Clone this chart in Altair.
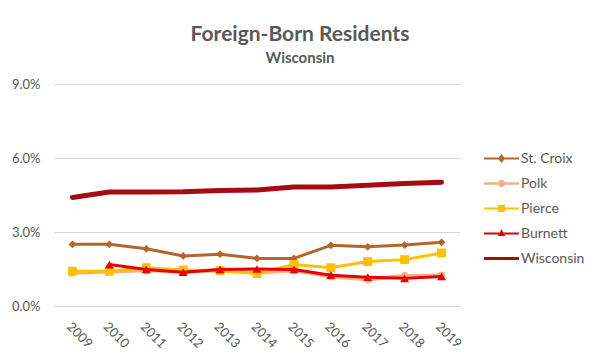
import altair as alt
import pandas as pd

years = ["2009", "2010", "2011", "2012", "2013", "2014", "2015", "2016", "2017", "2018", "2019"]
series_names = ["St. Croix", "Polk", "Pierce", "Burnett", "Wisconsin"]
st_croix = [2.50, 2.50, 2.32, 2.03, 2.10, 1.93, 1.93, 2.46, 2.40, 2.47, 2.58]
polk = [1.35, 1.40, 1.45, 1.40, 1.45, 1.35, 1.45, 1.20, 1.08, 1.22, 1.24]
pierce = [1.41, 1.41, 1.55, 1.46, 1.43, 1.32, 1.68, 1.55, 1.80, 1.88, 2.15]
burnett = [None, 1.68, 1.48, 1.37, 1.48, 1.50, 1.48, 1.25, 1.17, 1.12, 1.20]
wisconsin = [4.40, 4.62, 4.62, 4.63, 4.68, 4.70, 4.82, 4.82, 4.90, 4.97, 5.02]

colors = ["#B5652B", "#F4B183", "#FFC000", "#E60000", "#A50B10"]
marker_shapes = ["diamond", "circle", "square", "triangle-up", "circle"]
marker_sizes = [60, 60, 80, 80, 0]
line_widths = [3, 4, 3, 3, 5]

legend_paths = [
    "M-1,-0.06H1V0.06H-1Z M0,-0.26L0.2,0L0,0.26L-0.2,0Z",
    "M-1,-0.065H1V0.065H-1Z M-0.21,0A0.21,0.21 0 1,1 0.21,0A0.21,0.21 0 1,1 -0.21,0Z",
    "M-1,-0.06H1V0.06H-1Z M-0.2,-0.2H0.2V0.2H-0.2Z",
    "M-1,-0.06H1V0.06H-1Z M0,-0.24L0.21,0.14H-0.21Z",
    "M-1,-0.085H1V0.085H-1Z",
]

values = [st_croix, polk, pierce, burnett, wisconsin]
rows = []
for name, vals in zip(series_names, values):
    for y, v in zip(years, vals):
        if v is not None:
            rows.append({"year": y, "series": name, "value": v / 100})
df = pd.DataFrame(rows)

FONT = "Lato"
GREY = "#595959"

x_enc = alt.X("year:O", scale=alt.Scale(type="point", domain=years, padding=0.5),
              axis=alt.Axis(title=None, labelAngle=45, ticks=False, domain=False,
                            labelPadding=14, labelFontSize=13, labelColor=GREY,
                            labelFont=FONT, grid=False))
y_enc = alt.Y("value:Q", scale=alt.Scale(domain=[0, 0.09]),
              axis=alt.Axis(title=None, values=[0, 0.03, 0.06, 0.09], format=".1%",
                            ticks=False, domain=False, labelPadding=14,
                            labelFontSize=13, labelColor=GREY, labelFont=FONT,
                            gridColor="#D9D9D9", gridWidth=1))
color_scale = alt.Scale(domain=series_names, range=colors)

layers = []
for i, name in enumerate(series_names):
    sub = df[df["series"] == name]
    base = alt.Chart(sub)
    layers.append(base.mark_line(strokeWidth=line_widths[i], strokeCap="round",
                                 strokeJoin="round").encode(
        x=x_enc, y=y_enc,
        color=alt.Color("series:N", scale=color_scale, legend=None)))
    if marker_sizes[i] > 0:
        layers.append(base.mark_point(filled=True, opacity=1, shape=marker_shapes[i],
                                      size=marker_sizes[i]).encode(
            x=x_enc, y=y_enc,
            color=alt.Color("series:N", scale=color_scale, legend=None)))

leg = alt.Legend(title=None, orient="none", legendX=430, legendY=57,
                 symbolSize=1225, symbolStrokeWidth=0, rowPadding=-7,
                 labelFontSize=14, labelColor=GREY, labelFont=FONT, labelOffset=2)

legend_layer = alt.Chart(df).transform_filter("false").mark_point(
    filled=True, opacity=1).encode(
    x=x_enc, y=y_enc,
    color=alt.Color("series:N", scale=color_scale, legend=leg),
    shape=alt.Shape("series:N", scale=alt.Scale(domain=series_names, range=legend_paths),
                    legend=leg),
)

chart = alt.layer(*layers, legend_layer).resolve_scale(
    shape="independent", color="independent").properties(
    width=406, height=222,
    autosize=alt.AutoSizeParams(type="none"),
    padding={"left": 46, "top": 76, "right": 133, "bottom": 47},
    title=alt.TitleParams(
        text="Foreign-Born Residents", subtitle="Wisconsin",
        font=FONT, fontSize=21, fontWeight="bold", color=GREY,
        subtitleFont=FONT, subtitleFontSize=15, subtitleFontWeight="bold",
        subtitleColor=GREY, subtitlePadding=6, anchor="middle", frame="group",
        dx=43, offset=12),
).configure_view(stroke=None)

chart.save("out.html", embed_options={"renderer": "svg", "actions": False})
